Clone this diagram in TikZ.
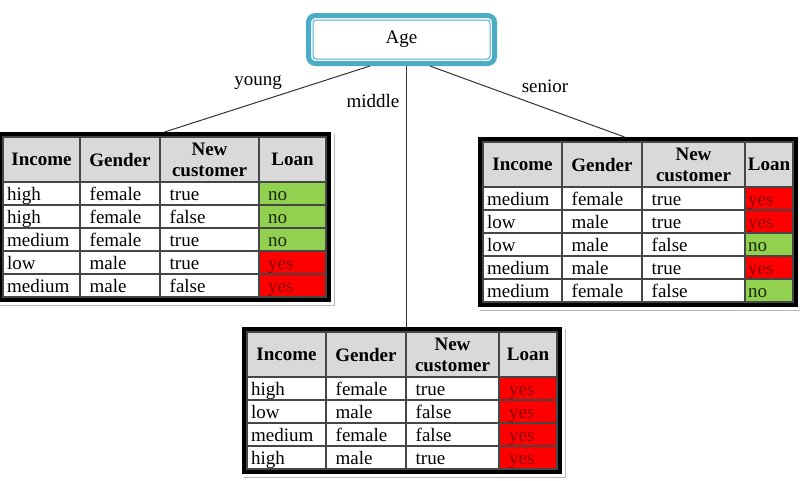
\documentclass[tikz,border=0pt]{standalone}
\usepackage{fontspec}
\setmainfont{Liberation Serif}
\definecolor{agecol}{RGB}{75,172,198}
\definecolor{headfill}{RGB}{217,217,217}
\definecolor{fillyes}{RGB}{255,0,0}
\definecolor{fillno}{RGB}{146,208,80}
\definecolor{textyes}{RGB}{140,0,0}
\definecolor{textno}{RGB}{25,40,10}
\definecolor{gridcol}{RGB}{70,70,70}
\tikzset{
  agebox/.style={draw=agecol, line width=5pt, rounded corners=7pt,
    minimum width=186pt, minimum height=48pt, inner sep=0pt,
    font=\fontsize{19}{21}\selectfont},
  tabframe/.style={draw=black, line width=5pt, inner sep=0pt},
  shadowline/.style={draw=gray!55, line width=0.8pt},
  gridline/.style={draw=gridcol, line width=1.2pt},
  headtext/.style={inner sep=0pt, align=center, font=\bfseries\fontsize{19}{21}\selectfont},
  celltext/.style={anchor=base west, inner sep=0pt, font=\fontsize{19}{21}\selectfont},
  branch/.style={draw=black!80, line width=1pt},
  branchlab/.style={inner sep=0pt, font=\fontsize{19}{21}\selectfont},
}
% #1 name, #2 top left of the cells, #3-#6 column lines,
% #7 shift of the loan text, #8 number of rows, #9 rows
\newcommand{\loantable}[9]{%
  \begin{scope}[shift={#2}]
    \node[tabframe, anchor=north west, minimum width=#6pt+5pt,
      minimum height=50pt+23pt*#8] (#1) at (-5,-5) {};
    \fill[headfill] (0,0) rectangle (#6,45);
    \node[headtext] (#1-h1) at ({#3/2},22.5) {Income};
    \node[headtext] (#1-h2) at ({(#3+#4)/2},22.5) {Gender};
    \node[headtext] (#1-h3) at ({(#4+#5)/2},22.5) {New\\customer};
    \node[headtext] (#1-h4) at ({(#5+#6)/2},22.5) {Loan};
    \foreach \income/\gender/\newcust/\loan [count=\r] in {#9}{
      \pgfmathsetmacro{\rtop}{45+23*(\r-1)}
      \fill[fill=fill\loan] (#5,\rtop) rectangle (#6,\rtop+23);
      \node[celltext] (#1-inc\r) at (4,\rtop+18.5) {\income};
      \node[celltext] (#1-gen\r) at (#3+9.5,\rtop+18.5) {\gender};
      \node[celltext] (#1-new\r) at (#4+9.5,\rtop+18.5) {\newcust};
      \node[celltext, text=text\loan] (#1-loan\r) at (#5+#7,\rtop+18.5) {\loan};
    }
    %
    \foreach \r in {1,...,#8}
      \draw[gridline] (0,22+23*\r) -- (#6,22+23*\r);
    \draw[gridline] (0,0) rectangle (#6,45+23*#8);
    \foreach \c in {#3,#4,#5}
      \draw[gridline] (\c,0) -- (\c,45+23*#8);
    \draw[shadowline] ([xshift=3pt,yshift=-2pt]#1.north east)
      -- ([xshift=3pt,yshift=-3pt]#1.south east)
      -- ([xshift=2pt,yshift=-3pt]#1.south west);
  \end{scope}}
\begin{document}
\begin{tikzpicture}[x=1pt,y=-1pt]
\useasboundingbox (0,0) rectangle (800,480);
%
\node[agebox] (age) at (401.5,39.5) {Age};
\draw[agecol, line width=1pt, rounded corners=3pt]
  ([xshift=7pt,yshift=-7pt]age.north west) rectangle ([xshift=-7pt,yshift=7pt]age.south east);
%
\loantable{young}{(3,137)}{77}{157}{256}{323}{9}{5}{high/female/true/no,
  high/female/false/no, medium/female/true/no, low/male/true/yes, medium/male/false/yes}
\loantable{senior}{(483,142)}{79}{159}{262}{310}{3}{5}{medium/female/true/yes,
  low/male/true/yes, low/male/false/no, medium/male/true/yes, medium/female/false/no}
\loantable{mid}{(247,332)}{79}{159}{252}{310}{10}{4}{high/female/true/yes,
  low/male/false/yes, medium/female/false/yes, high/male/true/yes}
%
\draw[branch] (age.220) -- (young.north);
\draw[branch] (age.280) -- (age.280 |- mid.north);
\draw[branch] (age.317) -- (senior.99);
\node[branchlab] (lyoung) at (258,83) {young};
\node[branchlab] (lmiddle) at (373,101) {middle};
\node[branchlab] (lsenior) at (545,86) {senior};
\end{tikzpicture}
\end{document}
